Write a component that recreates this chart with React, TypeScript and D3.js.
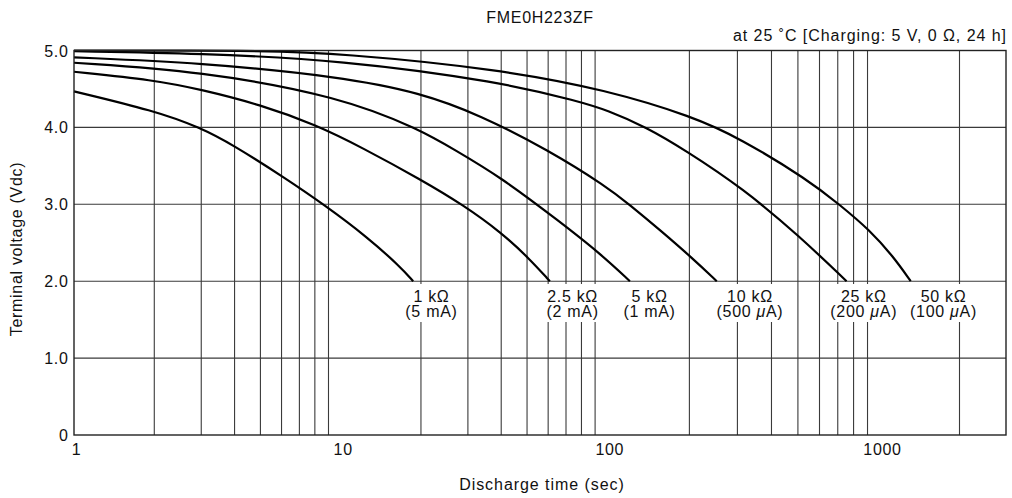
import React, { useEffect, useRef } from "react";
import * as d3 from "d3";

const W = 1012;
const H = 498;

const title = "FME0H223ZF";
const subtitle = "at 25 ˚C [Charging: 5 V, 0 Ω, 24 h]";
const xTitle = "Discharge time (sec)";
const yTitle = "Terminal voltage (Vdc)";

const xTickValues = [1, 10, 100, 1000];
const xTickLabels = ["1", "10", "100", "1000"];
const yTickValues = [0, 1, 2, 3, 4, 5];
const yTickLabels = ["0", "1.0", "2.0", "3.0", "4.0", "5.0"];
const xGridValues = [2, 3, 4, 5, 6, 7, 8, 9, 20, 30, 40, 50, 60, 70, 80, 90, 200, 300, 400, 500, 600, 700, 800, 900, 2000];
const yGridValues = [1, 2, 3, 4];

const resistanceLabels = ["1 kΩ", "2.5 kΩ", "5 kΩ", "10 kΩ", "25 kΩ", "50 kΩ"];
const currentValues = ["5", "2", "1", "500", "200", "100"];
const currentUnits = ["mA", "mA", "mA", "μA", "μA", "μA"];
const labelTimes = [21.9, 74.1, 142.8, 333.5, 872, 1740];

// 1 kΩ
const t1 = [1, 2, 2.97, 3.95, 6.1, 8.75, 12.5, 16.7, 18.7];
const v1 = [4.469, 4.217, 3.999, 3.771, 3.355, 2.984, 2.581, 2.191, 2.0];
// 2.5 kΩ
const t2 = [1, 2, 2.99, 4.98, 8.1, 12.0, 20.1, 28.8, 40.1, 50.9, 60.9];
const v2 = [4.724, 4.616, 4.493, 4.298, 4.031, 3.739, 3.316, 2.991, 2.631, 2.296, 2.0];
// 5 kΩ
const t3 = [1, 2.97, 10, 20.0, 26.8, 39.6, 66.3, 93.8, 121];
const v3 = [4.841, 4.733, 4.399, 3.966, 3.706, 3.359, 2.774, 2.363, 2.0];
// 10 kΩ
const t4 = [1, 2.97, 10, 20.0, 33.3, 60.0, 99.5, 121, 156, 206.7, 252];
const v4 = [4.911, 4.841, 4.659, 4.45, 4.161, 3.706, 3.229, 2.991, 2.666, 2.289, 2.0];
// 25 kΩ
const t5 = [1, 2.97, 10, 39.6, 79.0, 99.5, 139.5, 192.7, 313.9, 509, 754];
const v5 = [4.99, 4.963, 4.876, 4.594, 4.334, 4.226, 4.001, 3.706, 3.208, 2.579, 2.0];
// 50 kΩ
const t6 = [1, 4.77, 10, 39.6, 99.5, 206.7, 306.5, 546, 713, 916, 1123, 1307];
const v6 = [5.0, 5.0, 4.964, 4.755, 4.486, 4.139, 3.858, 3.316, 2.991, 2.666, 2.319, 2.0];

const seriesTimes = [t1, t2, t3, t4, t5, t6];
const seriesVolts = [v1, v2, v3, v4, v5, v6];

const FONT = "'Liberation Sans', Arial, Helvetica, sans-serif";

export default function App() {
  const ref = useRef<SVGSVGElement | null>(null);

  useEffect(() => {
    const svg = d3.select(ref.current);
    svg.selectAll("*").remove();

    const left = 74, right = 1006, top = 50.5, bottom = 435;
    const x = d3
      .scaleLog()
      .domain([1, 10, 100, 1000, 3000])
      .range([left, 340.7, 607.3, 880, right]);
    const y = d3.scaleLinear().domain([0, 5]).range([bottom, top]);

    const g = svg.append("g");
    const textStyle = (s: any) =>
      s.attr("font-family", FONT).attr("font-size", 16).attr("letter-spacing", 0.7).attr("fill", "#111");

    // grid
    g.selectAll("line.vg")
      .data(xGridValues)
      .join("line")
      .attr("x1", (d) => x(d))
      .attr("x2", (d) => x(d))
      .attr("y1", top)
      .attr("y2", bottom)
      .attr("stroke", "#3a3a3a")
      .attr("stroke-width", 1.1);
    g.selectAll("line.hg")
      .data(yGridValues)
      .join("line")
      .attr("x1", left)
      .attr("x2", right)
      .attr("y1", (d) => y(d))
      .attr("y2", (d) => y(d))
      .attr("stroke", "#3a3a3a")
      .attr("stroke-width", 1.1);

    // curves
    const line = d3
      .line<[number, number]>()
      .x((d) => x(d[0]))
      .y((d) => y(d[1]))
      .curve(d3.curveBasis);
    seriesTimes.forEach((ts, i) => {
      const pts: [number, number][] = ts.map((t, j) => [t, seriesVolts[i][j]]);
      g.append("path")
        .attr("d", line(pts) as string)
        .attr("fill", "none")
        .attr("stroke", "#000")
        .attr("stroke-width", 2.2);
    });

    // border
    g.append("rect")
      .attr("x", left)
      .attr("y", top)
      .attr("width", right - left)
      .attr("height", bottom - top)
      .attr("fill", "none")
      .attr("stroke", "#222")
      .attr("stroke-width", 1.4);

    // curve labels
    labelTimes.forEach((t, i) => {
      const cx = x(t);
      const lg = g.append("g");
      const bg = lg.append("rect").attr("fill", "#fff");
      const l1 = lg
        .append("text")
        .attr("x", cx)
        .attr("y", 301.5)
        .attr("text-anchor", "middle")
        .call(textStyle)
        .text(resistanceLabels[i]);
      const l2 = lg
        .append("text")
        .attr("x", cx)
        .attr("y", 317)
        .attr("text-anchor", "middle")
        .call(textStyle);
      l2.append("tspan").text("(" + currentValues[i] + " ");
      const unit = currentUnits[i];
      if (unit.startsWith("μ")) {
        l2.append("tspan").attr("font-style", "italic").text("μ");
        l2.append("tspan").text(unit.slice(1) + ")");
      } else {
        l2.append("tspan").text(unit + ")");
      }
      const b1 = (l1.node() as SVGTextElement).getBBox();
      const b2 = (l2.node() as SVGTextElement).getBBox();
      const x0 = Math.min(b1.x, b2.x) - 2;
      const x1 = Math.max(b1.x + b1.width, b2.x + b2.width) + 1;
      bg.attr("x", x0).attr("y", 284).attr("width", x1 - x0).attr("height", 38);
    });

    // y tick labels
    g.selectAll("text.yt")
      .data(yTickValues)
      .join("text")
      .attr("x", 68.5)
      .attr("y", (d) => y(d) + 6)
      .attr("text-anchor", "end")
      .call(textStyle)
      .text((d, i) => yTickLabels[i]);

    // x tick labels
    g.selectAll("text.xt")
      .data(xTickValues)
      .join("text")
      .attr("x", (d) => x(d) + 2.5)
      .attr("y", 455)
      .attr("text-anchor", "middle")
      .call(textStyle)
      .text((d, i) => xTickLabels[i]);

    // titles
    g.append("text")
      .attr("x", 540)
      .attr("y", 23)
      .attr("text-anchor", "middle")
      .call(textStyle)
      .text(title);
    g.append("text")
      .attr("x", 1007)
      .attr("y", 40.5)
      .attr("text-anchor", "end")
      .call(textStyle)
      .attr("letter-spacing", 0.95)
      .text(subtitle);
    g.append("text")
      .attr("x", 542)
      .attr("y", 490)
      .attr("text-anchor", "middle")
      .call(textStyle)
      .attr("letter-spacing", 0.95)
      .text(xTitle);
    g.append("text")
      .attr("transform", "translate(22,249) rotate(-90)")
      .attr("text-anchor", "middle")
      .call(textStyle)
      .text(yTitle);
  }, []);

  return (
    <svg
      ref={ref}
      width={W}
      height={H}
      style={{ position: "absolute", left: 0, top: 0, background: "#fff" }}
    />
  );
}
